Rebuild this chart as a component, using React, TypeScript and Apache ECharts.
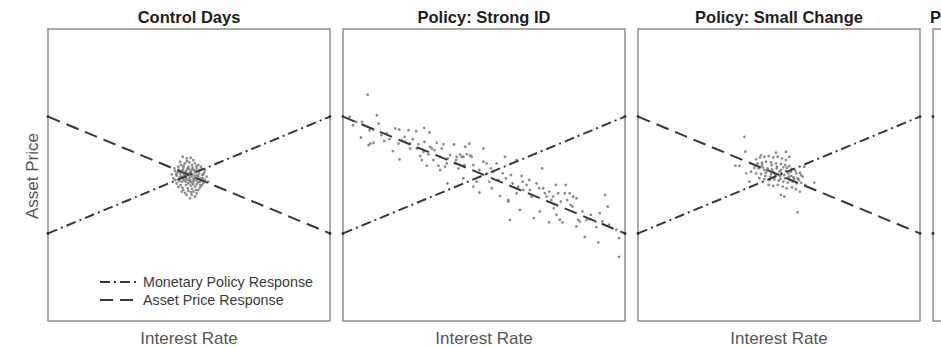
import { useEffect, useRef } from "react";
import * as echarts from "echarts";

// ---------- data (arbitrary units: interest rate 0..848, asset price 0..880) ----------
const panelTitles = ["Control Days", "Policy: Strong ID", "Policy: Small Change", "Policy: Large Change"];
const xAxisTitle = "Interest Rate";
const yAxisTitle = "Asset Price";
const legendLabels = ["Monetary Policy Response", "Asset Price Response"];

const rateRange = [0, 848];
const priceRange = [0, 880];

const monetaryPolicyLine = [[0, 264], [848, 616]];
const assetPriceLine = [[0, 616], [848, 264]];

const controlDays = [
  [405, 495], [417, 490], [429, 492], [437, 485], [397, 480], [412, 475], [425, 478], [442, 475], [452, 470],
  [392, 465], [407, 462], [422, 465], [435, 462], [447, 460], [462, 458], [382, 452], [399, 450], [415, 452],
  [429, 450], [442, 448], [455, 445], [467, 442], [387, 438], [402, 435], [417, 438], [432, 435], [445, 432],
  [459, 430], [477, 435], [377, 430], [395, 422], [409, 425], [425, 422], [437, 420], [452, 418], [467, 415],
  [399, 410], [415, 410], [429, 408], [442, 405], [457, 402], [407, 395], [422, 392], [437, 390], [452, 395],
  [417, 380], [432, 380], [442, 375], [462, 408], [372, 442], [482, 420], [472, 455], [387, 415], [402, 390],
  [447, 385], [427, 370], [420, 445], [434, 442], [409, 440], [425, 432], [439, 430], [415, 430], [449, 440],
  [432, 455], [405, 455], [457, 420], [397, 435], [422, 415], [411, 447], [428, 425], [444, 452], [419, 458],
  [436, 412], [451, 428], [403, 420], [390, 448], [464, 440], [426, 440], [414, 420], [441, 438],
  [400, 470], [418, 482], [433, 470], [446, 466], [393, 456], [408, 468], [424, 458], [438, 455], [455, 455],
  [385, 443], [398, 444], [413, 436], [427, 446], [438, 426], [452, 436], [466, 430], [383, 425], [394, 429],
  [406, 430], [419, 426], [431, 418], [446, 424], [460, 424], [472, 425], [392, 404], [404, 402], [420, 400],
  [433, 398], [447, 412], [458, 410], [412, 386], [430, 388], [445, 395], [470, 448], [380, 460], [460, 465],
];

const strongId = [
  [74, 682], [20, 615], [30, 590], [57, 600], [102, 620], [107, 595], [54, 553], [80, 575], [92, 577], [77, 530],
  [82, 535], [92, 537], [124, 542], [132, 565], [157, 580], [169, 577], [197, 575], [220, 572], [244, 582],
  [260, 568], [150, 512], [170, 487], [167, 535], [177, 545], [187, 540], [202, 535], [202, 520], [222, 520],
  [227, 533], [232, 497], [237, 485], [242, 510], [257, 502], [252, 468], [262, 525], [267, 520], [272, 485],
  [282, 537], [292, 495], [297, 520], [302, 533], [287, 468], [292, 455], [307, 465], [312, 475], [314, 415],
  [322, 500], [334, 532], [337, 475], [342, 495], [347, 460], [352, 502], [357, 495], [362, 495], [367, 525],
  [372, 503], [380, 535], [382, 499], [387, 495], [362, 430], [392, 470], [392, 405], [402, 420], [410, 387],
  [422, 520], [422, 480], [432, 475], [434, 445], [440, 420], [447, 400], [452, 450], [462, 475], [467, 425],
  [472, 377], [487, 495], [490, 430], [497, 365], [497, 360], [502, 305], [510, 415], [522, 485], [522, 385],
  [527, 405], [532, 335], [537, 437], [542, 395], [552, 410], [562, 395], [567, 375], [574, 310], [582, 415],
  [592, 330], [599, 460], [602, 400], [607, 385], [612, 375], [620, 297], [627, 365], [632, 375], [634, 340],
  [640, 410], [642, 320], [647, 385], [652, 305], [660, 297], [667, 385], [670, 410], [674, 365], [682, 385],
  [684, 350], [692, 375], [702, 370], [702, 285], [707, 305], [712, 300], [727, 253], [732, 305], [742, 307],
  [762, 283], [768, 237], [772, 325], [780, 300], [788, 380], [796, 345], [830, 250], [830, 193], [822, 275],
  [40, 600], [115, 560], [140, 548], [185, 555], [210, 548], [245, 540], [275, 515], [315, 490], [340, 485],
  [365, 470], [410, 455], [445, 460], [480, 445], [505, 440], [540, 420], [560, 425], [590, 400], [620, 390],
  [655, 360], [690, 345], [720, 330], [745, 320], [760, 300], [800, 290],
];

const smallChange = [
  [355, 487], [367, 493], [380, 495], [393, 497], [407, 493], [420, 495], [433, 490], [445, 485], [360, 475],
  [373, 477], [385, 480], [400, 478], [415, 475], [430, 473], [443, 470], [455, 467], [350, 462], [363, 460],
  [375, 463], [390, 460], [403, 457], [417, 460], [430, 455], [445, 453], [460, 450], [473, 453], [487, 447],
  [340, 450], [355, 445], [370, 443], [385, 447], [400, 443], [413, 440], [427, 437], [440, 440], [453, 435],
  [467, 433], [480, 430], [495, 435], [365, 430], [380, 427], [395, 425], [410, 427], [423, 423], [437, 420],
  [450, 417], [465, 420], [477, 415], [490, 417], [503, 410], [393, 410], [407, 407], [420, 410], [435, 405],
  [447, 400], [463, 403], [475, 397], [487, 390], [430, 380], [440, 375], [325, 445], [335, 420], [500, 465],
  [455, 495], [415, 507], [370, 500], [445, 510], [383, 437], [425, 450], [460, 437], [320, 555], [323, 510],
  [480, 328], [293, 468], [305, 468], [530, 417], [373, 470], [388, 455], [402, 470], [418, 465], [432, 445],
  [448, 462], [462, 458], [476, 445], [490, 440], [398, 435], [412, 445], [428, 428], [442, 430], [456, 425],
  [470, 428], [484, 425], [380, 455], [405, 450], [437, 463], [452, 445],
];

const largeChange: number[][] = [];

const panelPoints = [controlDays, strongId, smallChange, largeChange];

// ---------- layout / style ----------
const FONT = "'Liberation Sans', Arial, Helvetica, sans-serif";
const LINE_COLOR = "#383838";
const POINT_COLOR = "#6f6f6f";
const GRID_LEFT = [48, 343, 638, 933];
const GRID_TOP = 29;
const GRID_W = 282;
const GRID_H = 292;
const MP_DASH = [10, 4, 2, 4];
const AP_DASH = [13, 7];

export default function App() {
  const ref = useRef<HTMLDivElement>(null);

  useEffect(() => {
    if (!ref.current) return;
    const chart = echarts.init(ref.current, undefined, { renderer: "svg" });

    const grid = GRID_LEFT.map((l) => ({
      left: l,
      top: GRID_TOP,
      width: GRID_W,
      height: GRID_H,
      show: true,
      borderColor: "#8e8e8e",
      borderWidth: 1.5,
      backgroundColor: "transparent",
    }));
    const xAxis = GRID_LEFT.map((_, i) => ({
      type: "value",
      gridIndex: i,
      min: rateRange[0],
      max: rateRange[1],
      show: false,
    }));
    const yAxis = GRID_LEFT.map((_, i) => ({
      type: "value",
      gridIndex: i,
      min: priceRange[0],
      max: priceRange[1],
      show: false,
    }));

    const series: any[] = [];
    panelPoints.forEach((pts, i) => {
      series.push({
        type: "scatter",
        xAxisIndex: i,
        yAxisIndex: i,
        data: pts,
        symbol: "circle",
        symbolSize: 2.8,
        itemStyle: { color: POINT_COLOR },
        silent: true,
      });
      const visibleLines = i < 3;
      series.push({
        name: legendLabels[0],
        type: "line",
        xAxisIndex: i,
        yAxisIndex: i,
        data: visibleLines ? monetaryPolicyLine : [monetaryPolicyLine[0]],
        showSymbol: true,
        symbol: "circle",
        symbolSize: 3,
        itemStyle: { color: LINE_COLOR },
        lineStyle: { color: LINE_COLOR, width: 2, type: MP_DASH },
        silent: true,
      });
      series.push({
        name: legendLabels[1],
        type: "line",
        xAxisIndex: i,
        yAxisIndex: i,
        data: visibleLines ? assetPriceLine : [assetPriceLine[0]],
        showSymbol: true,
        symbol: "circle",
        symbolSize: 3,
        itemStyle: { color: LINE_COLOR },
        lineStyle: { color: LINE_COLOR, width: 2, type: AP_DASH },
        silent: true,
      });
    });

    const graphic: any[] = [];
    GRID_LEFT.forEach((l, i) => {
      const cx = l + GRID_W / 2;
      graphic.push({
        type: "text",
        x: i === 3 ? 930 : cx,
        y: 17,
        style: {
          text: panelTitles[i],
          font: `bold 16.5px ${FONT}`,
          fill: "#1e1e1e",
          textAlign: i === 3 ? "left" : "center",
          textVerticalAlign: "middle",
        },
      });
      if (i < 3) {
        graphic.push({
          type: "text",
          x: cx,
          y: 338,
          style: {
            text: xAxisTitle,
            font: `17px ${FONT}`,
            fill: "#555",
            textAlign: "center",
            textVerticalAlign: "middle",
          },
        });
      }
    });
    graphic.push({
      type: "text",
      x: 32,
      y: 176,
      rotation: Math.PI / 2,
      style: {
        text: yAxisTitle,
        font: `17px ${FONT}`,
        fill: "#555",
        textAlign: "center",
        textVerticalAlign: "middle",
      },
    });
    // legend inside first panel
    [MP_DASH, AP_DASH].forEach((dash, k) => {
      const y = 282 + k * 18;
      graphic.push({
        type: "line",
        shape: { x1: 100, y1: y, x2: 137, y2: y },
        style: { stroke: LINE_COLOR, lineWidth: 2, lineDash: dash },
      });
      graphic.push({
        type: "text",
        x: 143,
        y,
        style: {
          text: legendLabels[k],
          font: `14.3px ${FONT}`,
          fill: "#3a3a3a",
          textAlign: "left",
          textVerticalAlign: "middle",
        },
      });
    });

    chart.setOption({
      animation: false,
      backgroundColor: "#ffffff",
      grid,
      xAxis,
      yAxis,
      series,
      graphic,
    });

    return () => chart.dispose();
  }, []);

  return (
    <div
      ref={ref}
      style={{ position: "fixed", left: 0, top: 0, width: 941, height: 347, background: "#fff" }}
    />
  );
}
